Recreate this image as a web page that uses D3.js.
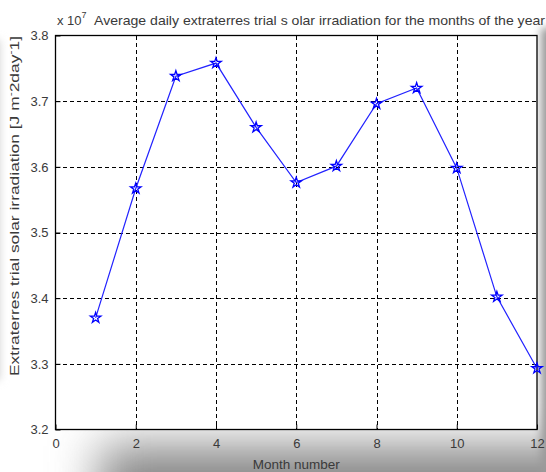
<!DOCTYPE html>
<html>
<head>
<meta charset="utf-8">
<script src="https://cdn.jsdelivr.net/npm/d3@7"></script>
<style>
  html, body { margin: 0; padding: 0; background: #fff; }
  svg { display: block; }
  text { font-family: "Liberation Sans", Arial, sans-serif; fill: #3a3a3a; }
</style>
</head>
<body>
<script>
// Month numbers and average daily extraterrestrial irradiation (x 10^7 J m^-2 day^-1)
const months = [1, 2, 3, 4, 5, 6, 7, 8, 9, 10, 11, 12];
const irradiation = [3.370, 3.567, 3.738, 3.758, 3.660, 3.576, 3.601, 3.696, 3.720, 3.598, 3.402, 3.293];

const xTicks = [0, 2, 4, 6, 8, 10, 12];
const yTicks = [3.2, 3.3, 3.4, 3.5, 3.6, 3.7, 3.8];

const W = 546, H = 472;
const plot = { left: 55.5, right: 537, top: 35.5, bottom: 429.5 };

const svg = d3.select("body").append("svg").attr("width", W).attr("height", H);
const defs = svg.append("defs");

defs.append("filter").attr("id", "soft").attr("x", "-50%").attr("y", "-50%")
  .attr("width", "200%").attr("height", "200%")
  .append("feGaussianBlur").attr("stdDeviation", 24);
defs.append("filter").attr("id", "softEdge").attr("x", "-50%").attr("y", "-50%")
  .attr("width", "200%").attr("height", "200%")
  .append("feGaussianBlur").attr("stdDeviation", 4);

// page background with drop shadow along the bottom and right edges
svg.append("rect").attr("width", W).attr("height", H).attr("fill", "#fff");
const shade = svg.append("g");
shade.append("rect").attr("x", 100).attr("y", 446).attr("width", 620).attr("height", 130)
  .attr("fill", "#858585").attr("filter", "url(#soft)");
shade.append("rect").attr("x", 541).attr("y", 28).attr("width", 40).attr("height", 500)
  .attr("fill", "#9a9a9a").attr("filter", "url(#softEdge)");
shade.append("rect").attr("x", -30).attr("y", 40).attr("width", 30).attr("height", 340)
  .attr("fill", "#d4d4d4").attr("filter", "url(#softEdge)");

const x = d3.scaleLinear().domain([0, 12]).range([plot.left, plot.right]);
const y = d3.scaleLinear().domain([3.2, 3.8]).range([plot.bottom, plot.top]);

// axes background
svg.append("rect")
  .attr("x", plot.left).attr("y", plot.top)
  .attr("width", plot.right - plot.left).attr("height", plot.bottom - plot.top)
  .attr("fill", "#fff");

// dashed grid
const grid = svg.append("g").attr("stroke", "#000").attr("stroke-width", 1)
  .attr("stroke-dasharray", "4,3").attr("shape-rendering", "crispEdges");
grid.selectAll("line.v").data(xTicks.slice(1, -1)).join("line").attr("class", "v")
  .attr("x1", d => Math.round(x(d)) + 0.5).attr("x2", d => Math.round(x(d)) + 0.5)
  .attr("y1", plot.top).attr("y2", plot.bottom);
grid.selectAll("line.h").data(yTicks.slice(1, -1)).join("line").attr("class", "h")
  .attr("y1", d => Math.round(y(d)) + 0.5).attr("y2", d => Math.round(y(d)) + 0.5)
  .attr("x1", plot.left).attr("x2", plot.right);

// axes with inward ticks
const xAxis = svg.append("g").attr("transform", `translate(0,${plot.bottom})`)
  .call(d3.axisBottom(x).tickValues(xTicks).tickSizeInner(-5).tickSizeOuter(0)
    .tickPadding(9).tickFormat(d3.format("d")));
const yAxis = svg.append("g").attr("transform", `translate(${plot.left},0)`)
  .call(d3.axisLeft(y).tickValues(yTicks).tickSizeInner(-5).tickSizeOuter(0)
    .tickPadding(7).tickFormat(d3.format(".1f")));
[xAxis, yAxis].forEach(a => {
  a.select(".domain").remove();
  a.selectAll("line").attr("stroke", "#000");
  a.selectAll("text").attr("font-size", 13).attr("fill", "#3a3a3a")
    .style("font-family", "'Liberation Sans', Arial, sans-serif");
});

// frame
svg.append("rect")
  .attr("x", plot.left).attr("y", plot.top)
  .attr("width", plot.right - plot.left).attr("height", plot.bottom - plot.top)
  .attr("fill", "none").attr("stroke", "#000").attr("stroke-width", 1.3);

// data line with pentagram markers
const pts = months.map((m, i) => [m, irradiation[i]]);
svg.append("path").datum(pts)
  .attr("fill", "none").attr("stroke", "#2222ff").attr("stroke-width", 1.2)
  .attr("d", d3.line().x(d => x(d[0])).y(d => y(d[1])));
svg.append("g").selectAll("path").data(pts).join("path")
  .attr("transform", d => `translate(${x(d[0])},${y(d[1])})`)
  .attr("d", d3.symbol(d3.symbolStar, 34))
  .attr("fill", "none").attr("stroke", "#0000ff").attr("stroke-width", 1.3);

// exponent marker and title
const expo = svg.append("text").attr("x", 57).attr("y", 25).attr("font-size", 13);
expo.append("tspan").text("x 10");
expo.append("tspan").attr("dy", -7).attr("font-size", 9).text("7");
svg.append("text").attr("x", 94).attr("y", 25).attr("font-size", 13)
  .attr("textLength", 451).attr("lengthAdjust", "spacingAndGlyphs")
  .text("Average daily extraterres trial s olar irradiation for the months of the year");

// axis titles
svg.append("text").attr("x", (plot.left + plot.right) / 2).attr("y", 469)
  .attr("text-anchor", "middle").attr("font-size", 13.5)
  .text("Month number");

const yl = svg.append("text")
  .attr("transform", `translate(19,${206}) rotate(-90)`)
  .attr("text-anchor", "middle").attr("font-size", 13)
  .attr("textLength", 340).attr("lengthAdjust", "spacingAndGlyphs");
yl.append("tspan").text("Extraterres trial solar irradiation [J m");
yl.append("tspan").attr("dy", -5).attr("font-size", 9).text("-");
yl.append("tspan").attr("dy", 5).text("2day");
yl.append("tspan").attr("dy", -5).attr("font-size", 9).text("-");
yl.append("tspan").attr("dy", 5).text("1]");
</script>
</body>
</html>
